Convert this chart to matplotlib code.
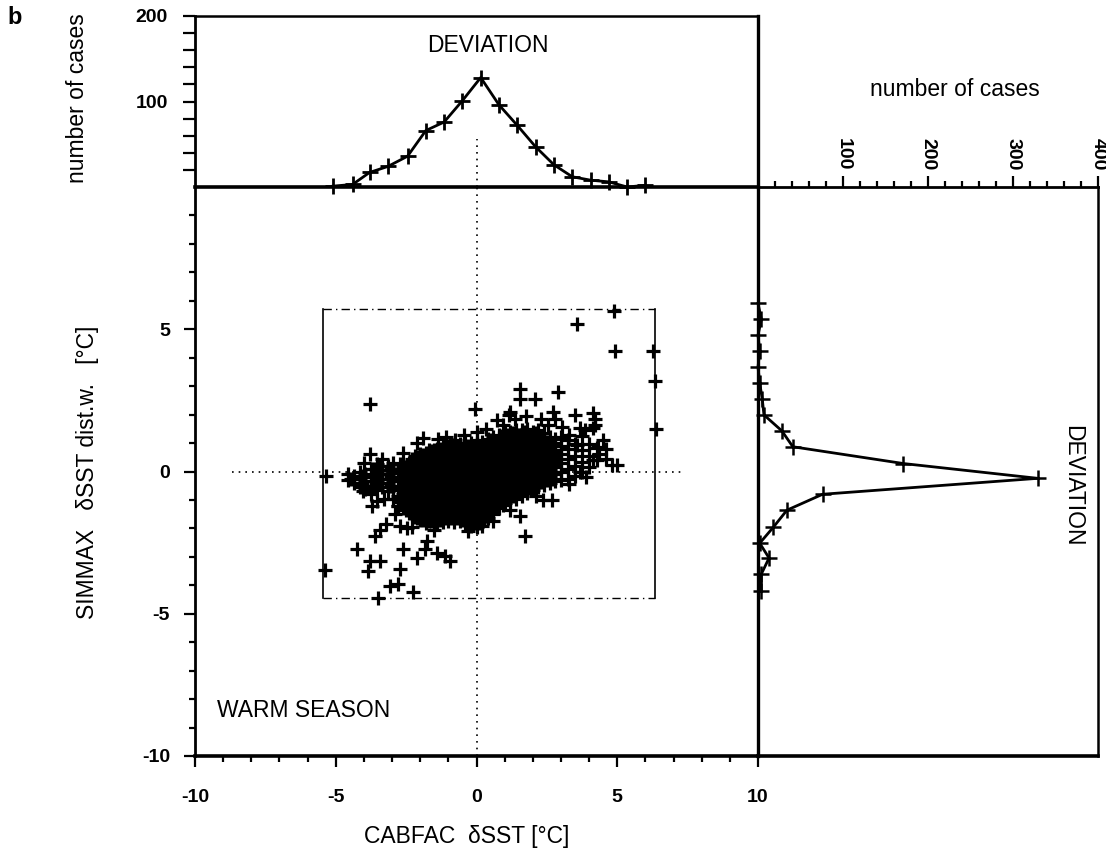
import matplotlib.pyplot as plt

plt.rcParams['font.family'] = ['Liberation Sans', 'DejaVu Sans']
plt.rcParams['axes.unicode_minus'] = False

# marginal distribution along CABFAC (top panel)
top_x = [-5.10, -4.40, -3.80, -3.15, -2.45, -1.80, -1.15, -0.50, 0.15,
         0.80, 1.45, 2.10, 2.75, 3.40, 4.05, 4.70, 5.35, 6.00]
top_n = [1, 3, 17, 24, 36, 66, 76, 101, 128, 96, 72, 47, 26, 12, 8, 6, 0, 2]

# marginal distribution along SIMMAX (right panel)
right_y = [5.91, 5.35, 4.79, 4.23, 3.67, 3.11, 2.55, 1.99, 1.43, 0.87,
           0.28, -0.24, -0.80, -1.36, -1.96, -2.52, -3.04, -3.60, -4.20]
right_n = [0, 4, 0, 2, 0, 2, 5, 7, 28, 41, 171, 329, 76, 34, 18, 2, 13, 4, 4]

# scatter cloud, column by column (x value, y values)
cloud_cols = [-4.55, -4.35, -4.15, -3.95, -3.75, -3.55, -3.35, -3.15, -2.95, -2.8,
              -2.6, -2.4, -2.2, -2.0, -1.8, -1.6, -1.4, -1.2, -1.0, -0.8,
              -0.6, -0.4, -0.2, 0.0, 0.2, 0.4, 0.6, 0.8, 1.0, 1.2,
              1.4, 1.6, 1.8, 2.0, 2.2, 2.4, 2.6, 2.8, 3.0, 3.25,
              3.5, 3.75, 4.0]
cloud_rows = [
    [-0.3, -0.1],
    [-0.4, -0.15],
    [-0.55, -0.25, 0.0],
    [-0.6, -0.35, -0.1],
    [-0.8, -0.5, -0.2, 0.1],
    [-0.65, -0.35, -0.05, 0.25],
    [-0.55, -0.25, 0.05],
    [-0.7, -0.4, -0.1, 0.2],
    [-0.95, -0.6, -0.3, 0.0, 0.3],
    [-1.2, -0.85, -0.5, -0.2, 0.1],
    [-1.3, -1.05, -0.8, -0.55, -0.3, -0.05, 0.2],
    [-1.45, -1.2, -0.95, -0.7, -0.45, -0.2, 0.05, 0.3],
    [-1.6, -1.35, -1.1, -0.85, -0.62, -0.4, -0.15, 0.1, 0.35, 0.55],
    [-1.7, -1.48, -1.25, -1.0, -0.78, -0.55, -0.3, -0.08, 0.15, 0.4, 0.6],
    [-1.8, -1.58, -1.35, -1.12, -0.9, -0.67, -0.45, -0.22, 0.0, 0.22, 0.45, 0.65],
    [-1.75, -1.5, -1.27, -1.05, -0.82, -0.6, -0.38, -0.15, 0.08, 0.3, 0.52, 0.72],
    [-1.82, -1.6, -1.37, -1.15, -0.92, -0.7, -0.47, -0.25, -0.02, 0.2, 0.42, 0.65, 0.8],
    [-1.78, -1.55, -1.3, -1.08, -0.85, -0.62, -0.4, -0.18, 0.05, 0.28, 0.5, 0.72, 0.85],
    [-1.75, -1.52, -1.3, -1.07, -0.85, -0.62, -0.4, -0.17, 0.05, 0.27, 0.5, 0.72, 0.9],
    [-1.78, -1.55, -1.32, -1.1, -0.87, -0.65, -0.42, -0.2, 0.02, 0.25, 0.48, 0.7, 0.92],
    [-1.75, -1.52, -1.3, -1.07, -0.85, -0.62, -0.4, -0.17, 0.05, 0.28, 0.5, 0.72, 0.95],
    [-1.8, -1.57, -1.35, -1.12, -0.9, -0.67, -0.45, -0.22, 0.0, 0.22, 0.45, 0.68, 0.9, 1.0],
    [-1.9, -1.68, -1.45, -1.22, -1.0, -0.78, -0.55, -0.32, -0.1, 0.12, 0.35, 0.58, 0.8, 1.0],
    [-1.95, -1.72, -1.5, -1.27, -1.05, -0.82, -0.6, -0.37, -0.15, 0.08, 0.3, 0.52, 0.75, 0.98, 1.1],
    [-1.9, -1.67, -1.45, -1.22, -1.0, -0.77, -0.55, -0.32, -0.1, 0.12, 0.35, 0.58, 0.8, 1.02],
    [-1.65, -1.42, -1.2, -0.97, -0.75, -0.52, -0.3, -0.07, 0.15, 0.38, 0.6, 0.82, 1.05, 1.15],
    [-1.5, -1.27, -1.05, -0.82, -0.6, -0.37, -0.15, 0.08, 0.3, 0.52, 0.75, 0.98, 1.2],
    [-1.3, -1.07, -0.85, -0.62, -0.4, -0.17, 0.05, 0.28, 0.5, 0.72, 0.95, 1.18, 1.3],
    [-1.1, -0.88, -0.65, -0.42, -0.2, 0.03, 0.25, 0.48, 0.7, 0.92, 1.15, 1.35],
    [-1.0, -0.78, -0.55, -0.32, -0.1, 0.12, 0.35, 0.58, 0.8, 1.02, 1.25, 1.4],
    [-0.95, -0.72, -0.5, -0.27, -0.05, 0.18, 0.4, 0.62, 0.85, 1.08, 1.3, 1.45],
    [-0.85, -0.62, -0.4, -0.17, 0.05, 0.28, 0.5, 0.72, 0.95, 1.18, 1.45],
    [-0.75, -0.52, -0.3, -0.07, 0.15, 0.38, 0.6, 0.82, 1.05, 1.28, 1.5],
    [-0.65, -0.42, -0.2, 0.03, 0.25, 0.48, 0.7, 0.92, 1.15, 1.4],
    [-0.55, -0.32, -0.1, 0.12, 0.35, 0.58, 0.8, 1.02, 1.25, 1.45],
    [-0.48, -0.25, -0.02, 0.2, 0.42, 0.65, 0.88, 1.1, 1.35],
    [-0.4, -0.17, 0.05, 0.28, 0.5, 0.72, 0.95, 1.2],
    [-0.35, -0.1, 0.15, 0.4, 0.65, 0.9, 1.15],
    [-0.3, 0.0, 0.3, 0.6, 0.9, 1.2],
    [-0.25, 0.1, 0.45, 0.8, 1.1],
    [-0.15, 0.2, 0.55, 0.95],
    [0.0, 0.35, 0.75, 1.25],
    [0.15, 0.55, 0.95],
]

# the in-between columns of the dense core
fill_cols = [-4.45, -4.05, -3.65, -3.45, -3.05, -2.7,
             -2.5, -2.3, -2.1, -1.9, -1.7, -1.5, -1.3, -1.1, -0.9, -0.7,
             -0.5, -0.3, -0.1, 0.1, 0.3, 0.5, 0.7, 0.9, 1.1, 1.3,
             1.5, 1.7, 1.9, 2.1, 2.3, 2.5, 2.7]
fill_rows = [
    [-0.25],
    [-0.45, -0.15],
    [-0.5, -0.2, 0.1],
    [-0.4, -0.1, 0.2],
    [-0.5, -0.2, 0.1],
    [-1.0, -0.65, -0.35, -0.05, 0.25],
    [-1.35, -1.1, -0.85, -0.6, -0.35, -0.1, 0.15],
    [-1.5, -1.25, -1.0, -0.75, -0.5, -0.27, -0.03, 0.2, 0.45],
    [-1.62, -1.38, -1.15, -0.92, -0.68, -0.45, -0.2, 0.03, 0.27, 0.5],
    [-1.72, -1.48, -1.25, -1.02, -0.78, -0.55, -0.33, -0.1, 0.12, 0.35, 0.58],
    [-1.75, -1.52, -1.28, -1.05, -0.8, -0.57, -0.33, -0.1, 0.12, 0.35, 0.58, 0.75],
    [-1.72, -1.48, -1.25, -1.02, -0.8, -0.57, -0.35, -0.12, 0.1, 0.33, 0.55, 0.75],
    [-1.7, -1.47, -1.25, -1.02, -0.8, -0.57, -0.35, -0.12, 0.1, 0.33, 0.55, 0.78],
    [-1.65, -1.42, -1.2, -0.97, -0.75, -0.52, -0.3, -0.07, 0.15, 0.38, 0.6, 0.8],
    [-1.65, -1.42, -1.2, -0.97, -0.75, -0.52, -0.3, -0.07, 0.15, 0.38, 0.6, 0.82],
    [-1.65, -1.42, -1.2, -0.97, -0.75, -0.52, -0.3, -0.07, 0.15, 0.38, 0.6, 0.83],
    [-1.7, -1.47, -1.25, -1.02, -0.8, -0.57, -0.35, -0.12, 0.1, 0.33, 0.55, 0.8],
    [-1.78, -1.55, -1.33, -1.1, -0.88, -0.65, -0.43, -0.2, 0.02, 0.25, 0.48, 0.7, 0.9],
    [-1.82, -1.6, -1.37, -1.15, -0.92, -0.7, -0.47, -0.25, -0.02, 0.2, 0.43, 0.65, 0.88],
    [-1.8, -1.57, -1.35, -1.12, -0.9, -0.67, -0.45, -0.22, 0.0, 0.22, 0.45, 0.68, 0.9],
    [-1.55, -1.32, -1.1, -0.87, -0.65, -0.42, -0.2, 0.02, 0.25, 0.48, 0.7, 0.92],
    [-1.38, -1.15, -0.92, -0.7, -0.47, -0.25, -0.02, 0.2, 0.42, 0.65, 0.88, 1.1],
    [-1.2, -0.97, -0.75, -0.52, -0.3, -0.07, 0.15, 0.38, 0.6, 0.83, 1.05],
    [-1.0, -0.77, -0.55, -0.32, -0.1, 0.13, 0.36, 0.58, 0.8, 1.03, 1.25],
    [-0.9, -0.67, -0.45, -0.22, 0.0, 0.23, 0.45, 0.68, 0.9, 1.13, 1.3],
    [-0.85, -0.62, -0.4, -0.17, 0.05, 0.28, 0.5, 0.73, 0.95, 1.18, 1.35],
    [-0.75, -0.52, -0.3, -0.07, 0.15, 0.38, 0.6, 0.83, 1.05, 1.3],
    [-0.65, -0.42, -0.2, 0.03, 0.25, 0.48, 0.7, 0.93, 1.15, 1.38],
    [-0.55, -0.32, -0.1, 0.13, 0.35, 0.58, 0.8, 1.03, 1.25],
    [-0.45, -0.22, 0.0, 0.23, 0.45, 0.68, 0.9, 1.13, 1.35],
    [-0.38, -0.15, 0.08, 0.3, 0.53, 0.75, 0.98, 1.2],
    [-0.3, -0.07, 0.15, 0.38, 0.6, 0.83, 1.05],
    [-0.25, 0.0, 0.25, 0.5, 0.75, 1.0],
]

# scattered single cases
out_x = [-3.78, -0.05, 3.56, 4.87, 4.92, 6.28, 6.34, 6.38, 1.55, 1.55, 2.08, 2.90,
         3.50, 4.20, 4.21, 2.79, 4.50, 4.60, 4.27, 4.80, 4.98, -1.10, -0.45, -1.90,
         0.02, 0.73, 1.15, 1.19, 2.73, 4.15, 3.68, 4.15, 4.33, 3.56, 4.27, 4.15,
         -3.78, -3.37, -5.33, -5.39, -4.02, -3.55, -3.72, -2.78, -2.72, -2.48,
         -3.20, -3.43, -3.60, -2.70, -4.25, -3.78, -3.43, -3.84, -2.72, -2.60,
         -3.07, -2.78, -3.49, -2.24, -2.12, -1.83, -1.77, -1.41, -1.12, -0.94,
         1.55, 1.72, 2.37, 2.67, 0.95, -0.07, 0.17, 3.68,
         -2.10, -1.35, -0.75, 0.35, 0.95, 1.35, 1.75, 2.30, 2.55, 3.05, 3.30, 3.85,
         4.35, 4.60, 3.90, 3.30, 2.10, 1.20, 0.60, -0.30, -1.50, -2.30, -2.90,
         -3.30, -4.00, -2.60]
out_y = [2.39, 2.21, 5.19, 5.64, 4.25, 4.25, 3.17, 1.51, 2.91, 2.56, 2.56, 2.80,
         1.98, 1.86, 1.63, 1.86, 1.10, 0.79, 0.41, 0.23, 0.23, 1.20, 1.30, 1.17,
         1.40, 1.80, 2.00, 2.10, 2.10, 2.04, 1.52, 1.52, 0.87, 0.93, 0.82, 0.41,
         0.63, 0.44, -0.17, -3.45, -0.70, -1.03, -1.22, -1.22, -1.08, -1.98,
         -1.86, -2.04, -2.27, -1.93, -2.74, -3.15, -3.15, -3.50, -3.44, -2.74,
         -4.02, -3.96, -4.43, -4.25, -3.03, -2.74, -2.45, -2.85, -2.97, -3.15,
         -1.57, -2.27, -0.99, -0.99, -1.17, -1.63, -1.69, 0.00,
         1.00, 1.15, 1.10, 1.50, 1.65, 1.85, 1.95, 1.85, 1.65, 1.55, 1.30, 1.45,
         0.60, 0.45, -0.20, -0.45, -0.85, -1.35, -1.75, -2.10, -2.05, -1.95, -1.50,
         -0.95, 0.30, 0.65]

# edges of the data box
box_x = [-5.45, 6.35]
box_y = [-4.45, 5.70]

scatter_x = []
scatter_y = []
for cx, ys in list(zip(cloud_cols, cloud_rows)) + list(zip(fill_cols, fill_rows)):
    for cy in ys:
        scatter_x.append(cx)
        scatter_y.append(cy)
scatter_x += out_x
scatter_y += out_y

W, H = 1106, 849


def px_box(left, top, right, bottom):
    return [left / W, 1 - bottom / H, (right - left) / W, (bottom - top) / H]


fig = plt.figure(figsize=(W / 100, H / 100), dpi=100)
ax = fig.add_axes(px_box(195, 187, 758, 756))
ax_top = fig.add_axes(px_box(195, 16, 758, 187))
ax_r = fig.add_axes(px_box(758, 187, 1098, 756))

# main scatter
ax.set_xlim(-10, 10)
ax.set_ylim(-10, 10)
ax.plot([box_x[0], box_x[0]], box_y, color='k', lw=1.2, zorder=1)
ax.plot([box_x[1], box_x[1]], box_y, color='k', lw=1.2, zorder=1)
ax.plot(box_x, [box_y[0], box_y[0]], color='k', lw=1.0, ls=(0, (6, 3, 1, 3)), zorder=1)
ax.plot(box_x, [box_y[1], box_y[1]], color='k', lw=1.0, ls=(0, (6, 3, 1, 3)), zorder=1)
ax.plot([0, 0], [-10, 10], color='k', lw=1.2, ls=(0, (1, 3)), zorder=1)
ax.plot([-8.7, 7.3], [0, 0], color='k', lw=1.2, ls=(0, (1, 3)), zorder=1)
ax.plot(scatter_x, scatter_y, '+', color='k', ms=10.5, mew=2.3, ls='none', zorder=2)
ax.text(-9.22, -8.4, 'WARM SEASON', ha='left', va='center', fontsize=16.5)

ax.spines['top'].set_visible(False)
ax.spines['right'].set_visible(False)
ax.spines['left'].set_linewidth(2.0)
ax.spines['bottom'].set_linewidth(2.6)
ax.set_xticks([-10, -5, 0, 5, 10])
ax.set_xticks(range(-10, 11), minor=True)
ax.set_yticks([-10, -5, 0, 5])
ax.set_yticks(range(-10, 10), minor=True)
ax.tick_params(which='major', direction='out', length=8, width=1.6, labelsize=14)
ax.tick_params(which='minor', direction='out', length=4.5, width=1.6)
ax.tick_params(axis='x', which='major', pad=16)
ax.tick_params(axis='y', which='major', pad=10)
for lab in ax.get_xticklabels() + ax.get_yticklabels():
    lab.set_fontweight('bold')

# top histogram
ax_top.set_xlim(-10, 10)
ax_top.set_ylim(0, 200)
ax_top.plot([0, 0], [0, 56], color='k', lw=1.2, ls=(0, (1, 3)), zorder=1)
ax_top.plot(top_x, top_n, '-+', color='k', lw=2.0, ms=12, mew=2.0, clip_on=False, zorder=3)
ax_top.text(0.4, 166, 'DEVIATION', ha='center', va='center', fontsize=16.5)
ax_top.set_xticks([])
ax_top.set_yticks([100, 200])
ax_top.set_yticks(range(20, 200, 20), minor=True)
ax_top.tick_params(axis='y', which='both', direction='out', length=8.5, width=1.6,
                   labelsize=14, pad=11)
for lab in ax_top.get_yticklabels():
    lab.set_fontweight('bold')
ax_top.spines['bottom'].set_linewidth(2.6)
ax_top.spines['left'].set_linewidth(2.0)
ax_top.spines['top'].set_linewidth(1.8)
ax_top.spines['right'].set_linewidth(2.4)

# right histogram
ax_r.set_xlim(0, 400)
ax_r.set_ylim(-10, 10)
ax_r.plot(right_n, right_y, '-+', color='k', lw=2.0, ms=12, mew=1.8, clip_on=False, zorder=3)
ax_r.text(370, -0.5, 'DEVIATION', rotation=-90, ha='center', va='center', fontsize=16.5)
ax_r.set_yticks([])
ax_r.xaxis.tick_top()
ax_r.set_xticks([100, 200, 300, 400])
ax_r.set_xticks(range(20, 400, 20), minor=True)
ax_r.tick_params(axis='x', which='major', direction='out', length=8, width=1.6,
                 labelsize=14, pad=4)
ax_r.tick_params(axis='x', which='minor', direction='out', length=4, width=1.6)
for lab in ax_r.get_xticklabels():
    lab.set_rotation(-90)
    lab.set_fontweight('bold')
ax_r.spines['left'].set_linewidth(2.4)
ax_r.spines['bottom'].set_linewidth(2.6)
ax_r.spines['top'].set_linewidth(2.0)
ax_r.spines['right'].set_linewidth(1.8)

# labels
fig.text(955 / W, 1 - 90 / H, 'number of cases', ha='center', va='center', fontsize=16.5)
fig.text(77 / W, 1 - 98 / H, 'number of cases', rotation=90, ha='center', va='center',
         fontsize=16.5)
fig.text(88 / W, 1 - 472 / H, 'SIMMAX   \u03b4SST dist.w.   [\u00b0C]', rotation=90,
         ha='center', va='center', fontsize=16.5)
fig.text(467 / W, 1 - 836 / H, 'CABFAC  \u03b4SST [\u00b0C]', ha='center', va='center',
         fontsize=16.5)
fig.text(15 / W, 1 - 18 / H, 'b', ha='center', va='center', fontsize=17, fontweight='bold')

fig.savefig('out.png', dpi=100)
